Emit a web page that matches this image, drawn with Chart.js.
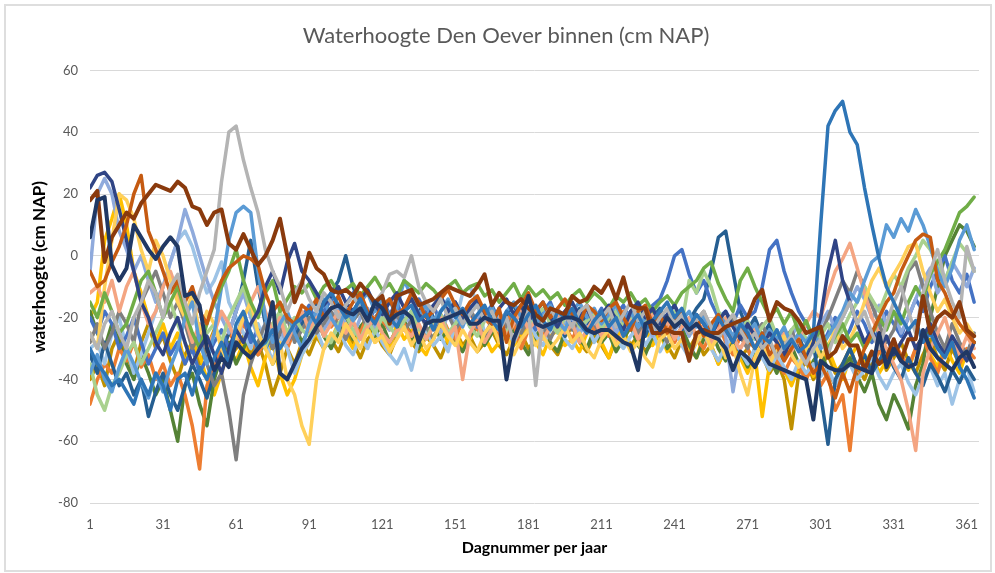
<!DOCTYPE html>
<html>
<head>
<meta charset="utf-8">
<script src="https://cdn.jsdelivr.net/npm/chart.js@4.4.1/dist/chart.umd.min.js"></script>
<style>
  html, body { margin: 0; padding: 0; background: #fff; }
  #wrap { position: relative; width: 995px; height: 573px; }
  #kader { position: absolute; left: 4px; top: 4px; width: 984px; height: 564px; border: 2px solid #dedede; pointer-events: none; }
</style>
</head>
<body>
<div id="wrap">
  <canvas id="waterChart" width="995" height="573"></canvas>
  <div id="kader"></div>
</div>
<script>
const dagen = Array.from({ length: 122 }, (_, i) => 1 + 3 * i);
const xTicks = [1, 31, 61, 91, 121, 151, 181, 211, 241, 271, 301, 331, 361];
const yTicks = [-80, -60, -40, -20, 0, 20, 40, 60];

// waterhoogte per jaar (cm NAP)
const jaarNavy = [6,18,19,-3,-8,-4,10,6,2,-1,
  3,6,3,-13,-12,-16,-30,-37,-33,-36,
  -28,-31,-33,-30,-27,-15,-38,-40,-35,-30,
  -27,-23,-20,-17,-16,-18,-19,-17,-21,-15,
  -17,-21,-19,-18,-20,-28,-22,-21,-21,-20,
  -19,-18,-22,-22,-20,-21,-21,-40,-27,-21,
  -13,-22,-23,-22,-21,-20,-20,-21,-24,-25,
  -24,-24,-26,-28,-29,-37,-22,-21,-24,-20,
  -23,-21,-24,-22,-25,-26,-27,-30,-37,-31,
  -33,-36,-31,-35,-36,-37,-38,-39,-40,-53,
  -34,-36,-37,-37,-35,-36,-37,-38,-25,-36,
  -30,-34,-36,-35,-24,-30,-33,-35,-37,-33,
  -31,-36];
const jaarRoest = [18,21,-2,6,10,14,12,17,20,23,
  22,21,24,22,16,15,10,14,15,4,
  2,7,2,-3,0,5,12,0,-15,-9,
  1,-4,-6,-11,-12,-11,-13,-9,-12,-15,
  -13,-22,-13,-12,-11,-16,-15,-14,-12,-10,
  -11,-12,-13,-10,-6,-16,-12,-15,-16,-14,
  -17,-19,-21,-17,-18,-19,-13,-15,-14,-10,
  -12,-8,-14,-7,-16,-17,-17,-25,-25,-24,
  -25,-25,-34,-25,-24,-25,-25,-23,-22,-21,
  -20,-14,-11,-21,-15,-17,-18,-21,-25,-24,
  -23,-33,-31,-26,-29,-29,-37,-31,-35,-33,
  -27,-34,-27,-27,-13,-25,-20,-18,-20,-15,
  -24,-26];
const jaarStaal = [-30,-35,-38,-42,-40,-44,-48,-40,-45,-38,
  -42,-50,-40,-38,-45,-36,-40,-33,-28,-35,
  -22,-18,-25,-30,-28,-24,-30,-26,-22,-20,
  -18,-22,-15,-12,-16,-20,-18,-14,-19,-22,
  -17,-20,-23,-18,-16,-21,-19,-24,-18,-15,
  -20,-17,-22,-19,-16,-21,-24,-18,-20,-23,
  -19,-16,-21,-24,-18,-20,-17,-22,-25,-21,
  -18,-23,-20,-26,-22,-19,-24,-21,-18,-15,
  -20,-17,-23,-19,-22,-26,-20,-24,-28,-22,
  -25,-30,-26,-28,-24,-30,-27,-31,-29,-25,
  10,42,47,50,40,36,22,10,-1,-10,
  -15,-20,-24,-21,-28,-25,-30,-33,-28,-36,
  -40,-46];
const jaarGrijs = [-25,-30,-22,-18,-25,-30,-20,-15,-8,-12,
  -20,-10,-6,-15,-22,-12,-5,2,24,40,
  42,31,22,14,2,-5,-10,-18,-12,-8,
  -14,-18,-12,-15,-20,-16,-13,-17,-22,-15,
  -12,-6,-5,-7,0,-10,-15,-18,-14,-20,
  -17,-22,-19,-16,-21,-18,-24,-20,-28,-22,
  -18,-42,-20,-17,-21,-19,-23,-18,-16,-22,
  -20,-17,-23,-19,-15,-21,-18,-24,-20,-17,
  -22,-19,-25,-21,-18,-23,-27,-22,-19,-24,
  -28,-25,-30,-27,-33,-29,-26,-31,-35,-30,
  -27,-32,-25,-20,-15,-22,-18,-25,-30,-22,
  -15,-10,-18,-25,-12,-5,2,-8,-15,-20,
  3,-5];
const jaarOranje = [-5,-10,-8,-2,3,10,20,26,8,2,
  -5,-12,-8,-15,-10,-18,-22,-14,-8,-4,
  -2,0,-1,-3,-12,-18,-15,-20,-22,-16,
  -18,-14,-20,-17,-13,-19,-15,-12,-18,-21,
  -16,-14,-19,-17,-12,-15,-20,-18,-14,-11,
  -16,-19,-15,-13,-18,-22,-17,-28,-20,-16,
  -12,-18,-15,-20,-17,-14,-19,-22,-16,-18,
  -21,-17,-15,-20,-24,-18,-16,-22,-19,-25,
  -21,-18,-23,-20,-26,-22,-19,-24,-28,-23,
  -27,-30,-25,-32,-29,-34,-30,-27,-33,-38,
  -35,-40,-46,-38,-44,-36,-30,-25,-20,-15,
  -12,-5,0,5,7,6,-8,-12,-18,-22,
  -25,-28];
const jaarLichtOranje = [-48,-40,-35,-38,-30,-34,-28,-36,-32,-40,
  -35,-42,-38,-45,-55,-69,-42,-36,-30,-25,
  -28,-22,-26,-32,-27,-22,-25,-30,-24,-20,
  -25,-21,-18,-23,-20,-17,-22,-25,-19,-16,
  -21,-24,-18,-22,-26,-20,-17,-23,-19,-24,
  -27,-21,-18,-24,-20,-23,-26,-19,-22,-30,
  -24,-20,-25,-21,-18,-23,-27,-22,-19,-24,
  -20,-26,-23,-18,-22,-27,-24,-20,-26,-23,
  -28,-24,-21,-27,-30,-25,-22,-28,-32,-26,
  -30,-35,-31,-28,-34,-38,-33,-36,-40,-35,
  -42,-38,-50,-45,-63,-40,-35,-38,-30,-34,
  -28,-32,-36,-30,-26,-33,-38,-30,-27,-35,
  -30,-33];
const jaarGoud = [-20,-15,5,12,20,10,-5,-12,-20,-28,
  -22,-30,-25,-35,-28,-32,-40,-45,-38,-30,
  -34,-28,-36,-42,-33,-28,-38,-45,-40,-32,
  -28,-25,-30,-27,-22,-26,-30,-24,-21,-28,
  -25,-30,-22,-27,-24,-29,-32,-26,-23,-28,
  -25,-30,-27,-22,-26,-31,-28,-24,-29,-26,
  -23,-28,-32,-26,-24,-29,-27,-31,-25,-22,
  -28,-33,-26,-24,-30,-27,-23,-29,-25,-31,
  -27,-24,-30,-33,-26,-29,-35,-30,-27,-33,
  -38,-32,-52,-35,-30,-37,-42,-36,-31,-39,
  -34,-30,-36,-40,-33,-29,-35,-31,-38,-34,
  -28,-33,-37,-30,-26,-32,-36,-29,-34,-38,
  -31,-28];
const jaarLichtGoud = [-25,-30,-10,5,20,18,12,2,-5,5,
  0,-8,-15,-20,-12,-25,-18,-22,-30,-35,
  -26,-20,-15,-25,-30,-35,-28,-40,-45,-55,
  -61,-40,-30,-25,-28,-22,-26,-30,-24,-28,
  -26,-31,-27,-23,-29,-25,-30,-27,-22,-26,
  -29,-24,-28,-31,-25,-22,-28,-26,-32,-27,
  -24,-29,-26,-30,-27,-23,-28,-25,-30,-33,
  -27,-24,-29,-26,-31,-28,-33,-36,-27,-25,
  -30,-27,-32,-28,-24,-30,-26,-33,-29,-38,
  -45,-33,-28,-35,-30,-26,-32,-36,-30,-27,
  -33,-29,-24,-30,-27,-22,-15,-8,-4,-10,
  -6,-2,3,4,-5,-12,-18,-14,-20,-25,
  -22,-26];
const jaarLichtBlauw = [-30,-28,-35,-25,-20,-30,-38,-32,-25,-18,
  -10,-2,5,8,3,-5,-12,-8,-2,-15,
  -20,-25,-30,-22,-28,-34,-26,-30,-38,-32,
  -28,-24,-30,-27,-23,-29,-32,-26,-30,-24,
  -28,-32,-35,-30,-37,-27,-24,-29,-26,-31,
  -22,-12,-10,-15,-25,-22,-19,-24,-28,-23,
  -20,-26,-29,-24,-21,-27,-30,-25,-22,-28,
  -24,-21,-27,-30,-26,-23,-29,-25,-31,-27,
  -24,-29,-33,-28,-25,-30,-34,-29,-26,-31,
  -35,-30,-33,-37,-32,-36,-40,-34,-38,-35,
  -39,-36,-42,-38,-35,-40,-37,-33,-39,-43,
  -38,-35,-41,-45,-39,-36,-42,-38,-48,-40,
  -36,-44];
const jaarBlauw = [-38,-32,-40,-44,-36,-30,-35,-41,-46,-38,
  -44,-36,-30,-20,-15,-28,-35,-25,-10,5,
  14,16,14,-5,-20,-28,-22,-18,-25,-30,
  -22,-18,-14,-20,-24,-17,-21,-15,-12,-18,
  -14,-20,-17,-8,-13,-19,-16,-21,-18,-14,
  -19,-23,-17,-15,-20,-17,-22,-18,-15,-20,
  -17,-22,-19,-16,-21,-24,-18,-15,-20,-17,
  -22,-19,-16,-21,-18,-23,-20,-17,-22,-19,
  -16,-21,-18,-23,-20,-24,-19,-22,-26,-21,
  -25,-22,-28,-24,-27,-23,-29,-25,-28,-24,
  -30,-26,-22,-18,-12,-15,-8,-2,0,10,
  6,12,8,15,10,3,-5,-10,-4,5,
  10,2];
const jaarGroen = [-15,-20,-12,-18,-25,-22,-15,-8,-5,-12,
  -20,-15,-10,-18,-25,-30,-22,-15,-10,-5,
  2,-8,-15,-20,-12,-8,-18,-14,-10,-12,
  -9,-14,-10,-8,-12,-11,-9,-13,-10,-7,
  -11,-9,-13,-8,-10,-12,-9,-11,-14,-10,
  -8,-12,-10,-9,-13,-11,-15,-12,-9,-14,
  -10,-13,-11,-14,-12,-16,-13,-11,-15,-12,
  -14,-17,-13,-15,-12,-16,-14,-18,-15,-13,
  -16,-12,-10,-8,-4,-2,-9,-14,-18,-8,
  -4,-10,-15,-20,-17,-22,-18,-25,-21,-27,
  -24,-30,-26,-22,-28,-25,-30,-26,-20,-24,
  -18,-22,-15,-10,-14,-6,-2,2,8,14,
  16,19];
const jaarDonkerGroen = [-18,-25,-30,-22,-28,-35,-40,-32,-38,-45,
  -40,-50,-60,-42,-38,-48,-55,-40,-32,-28,
  -35,-30,-25,-32,-28,-35,-30,-26,-22,-28,
  -24,-20,-26,-30,-25,-21,-27,-23,-20,-26,
  -22,-28,-24,-21,-26,-30,-25,-22,-27,-24,
  -28,-31,-26,-23,-29,-25,-22,-27,-24,-28,
  -32,-26,-23,-28,-31,-25,-22,-27,-30,-24,
  -28,-25,-31,-27,-23,-29,-32,-26,-24,-30,
  -27,-23,-29,-33,-27,-24,-30,-34,-28,-31,
  -36,-30,-27,-33,-38,-32,-29,-35,-40,-34,
  -31,-37,-42,-36,-33,-39,-44,-38,-48,-53,
  -45,-50,-56,-42,-35,-20,-10,0,5,10,
  8,3];
const jaarLichtGroen = [-35,-45,-50,-42,-38,-32,-28,-35,-30,-25,
  -20,-15,-22,-28,-35,-30,-25,-22,-28,-20,
  -15,-10,-18,-25,-30,-22,-18,-25,-20,-24,
  -26,-21,-25,-28,-22,-19,-24,-27,-21,-25,
  -20,-23,-26,-21,-18,-24,-27,-22,-19,-25,
  -22,-18,-23,-26,-21,-17,-22,-25,-20,-18,
  -23,-20,-17,-22,-25,-20,-18,-23,-21,-19,
  -24,-20,-18,-23,-21,-17,-22,-20,-25,-21,
  -18,-22,-8,-12,-5,-10,-18,-22,-19,-24,
  -21,-27,-23,-20,-26,-30,-24,-21,-27,-31,
  -26,-22,-28,-24,-19,-15,-10,-14,-18,-12,
  -6,-10,-4,0,5,2,-3,-8,-2,4,
  1,-5];
const jaarZalm = [-12,-10,-15,-8,-18,-10,-5,-15,-22,-18,
  -10,-5,-12,-20,-28,-22,-30,-25,-18,-22,
  -28,-20,-15,-10,-18,-25,-20,-28,-22,-18,
  -24,-20,-26,-22,-18,-25,-21,-27,-23,-20,
  -25,-28,-24,-24,-26,-22,-27,-23,-20,-26,
  -23,-40,-25,-21,-28,-24,-20,-26,-22,-18,
  -24,-21,-27,-23,-19,-25,-22,-28,-24,-20,
  -26,-22,-28,-25,-21,-27,-23,-19,-25,-21,
  -27,-23,-20,-26,-22,-28,-24,-20,-27,-30,
  -26,-23,-29,-34,-28,-25,-31,-27,-22,-18,
  -20,-12,-5,-1,4,-4,-12,-20,-25,-30,
  -35,-40,-50,-63,-38,-30,-25,-20,-28,-32,
  -26,-30];
const jaarDonkerGrijs = [-28,-22,-30,-25,-18,-22,-28,-15,-10,-5,
  -12,-20,-15,-22,-30,-25,-35,-42,-38,-50,
  -66,-45,-35,-28,-22,-30,-25,-20,-28,-24,
  -20,-25,-22,-18,-23,-27,-21,-18,-24,-20,
  -17,-22,-19,-24,-21,-18,-23,-27,-21,-19,
  -24,-20,-17,-22,-26,-21,-18,-23,-20,-25,
  -21,-18,-23,-27,-22,-19,-24,-21,-17,-22,
  -26,-21,-18,-23,-20,-25,-22,-19,-24,-28,
  -22,-19,-25,-21,-18,-24,-27,-22,-20,-26,
  -30,-25,-22,-28,-32,-27,-24,-30,-35,-28,
  -25,-20,-14,-8,-12,-5,-10,-16,-22,-28,
  -24,-15,-5,-2,-10,-18,-25,-30,-22,-28,
  -32,-25];
const jaarLavendel = [-5,20,25,20,8,2,-5,0,-8,-15,
  -10,-2,5,15,8,0,-8,-15,-20,-25,
  -18,-12,-20,-26,-22,-17,-24,-28,-21,-18,
  -23,-19,-24,-20,-17,-22,-26,-20,-17,-23,
  -19,-24,-21,-18,-23,-20,-16,-21,-25,-19,
  -22,-18,-23,-20,-17,-22,-19,-24,-21,-17,
  -22,-19,-24,-21,-17,-22,-20,-25,-21,-18,
  -23,-20,-25,-21,-18,-23,-20,-26,-22,-19,
  -24,-21,-26,-22,-19,-24,-20,-26,-44,-30,
  -26,-26,-22,-28,-24,-30,-26,-22,-28,-25,
  -22,-18,-24,-20,-15,-10,-14,-20,-16,-22,
  -18,-25,-20,-14,-8,-4,-12,-8,-2,-6,
  -10,-4];
const jaarKoningsblauw = [-20,-25,-18,-22,-30,-26,-20,-28,-35,-30,
  -25,-32,-28,-35,-30,-38,-33,-28,-24,-30,
  -26,-20,-28,-24,-30,-26,-22,-28,-24,-20,
  -16,-22,-18,-14,-20,-16,-12,-18,-22,-17,
  -14,-19,-15,-21,-18,-14,-19,-16,-22,-18,
  -15,-20,-17,-23,-19,-16,-21,-25,-19,-16,
  -20,-24,-18,-15,-21,-18,-23,-19,-16,-21,
  -17,-22,-19,-16,-21,-25,-19,-16,-14,-8,
  0,2,-6,-12,-8,-15,-20,-18,-22,-16,
  -20,-18,-10,2,5,-5,-12,-18,-22,-26,
  -30,-25,-20,-28,-24,-18,-22,-28,-24,-18,
  -22,-26,-20,-14,-18,-10,-5,0,-8,-12,
  -6,-15];
const jaarDonkerStaal = [-32,-38,-28,-35,-42,-38,-45,-40,-52,-44,
  -38,-45,-50,-42,-35,-40,-46,-38,-32,-25,
  -18,-8,5,-10,-22,-30,-25,-20,-26,-22,
  -18,-15,-20,-12,-8,0,-10,-16,-20,-15,
  -18,-14,-20,-17,-22,-18,-15,-20,-24,-18,
  -16,-21,-18,-22,-17,-20,-24,-19,-16,-21,
  -18,-23,-20,-17,-22,-26,-20,-17,-22,-19,
  -24,-21,-18,-23,-19,-22,-26,-20,-17,-22,
  -19,-24,-21,-17,-14,-5,6,8,-5,-18,
  -24,-20,-26,-22,-28,-24,-30,-26,-32,-28,
  -45,-61,-40,-35,-30,-36,-32,-38,-34,-30,
  -36,-40,-33,-38,-42,-35,-39,-44,-37,-41,
  -36,-40];
const jaarNavy2 = [22,26,27,24,15,5,-5,-15,-20,-28,
  -32,-25,-20,-28,-35,-30,-26,-32,-38,-30,
  -24,-28,-22,-18,-10,-5,-12,-2,4,-5,
  -8,-12,-16,-13,-10,-15,-18,-14,-11,-16,
  -19,-15,-12,-17,-14,-19,-22,-16,-13,-18,
  -15,-20,-17,-14,-19,-22,-17,-14,-19,-16,
  -21,-18,-15,-20,-23,-18,-15,-20,-17,-22,
  -19,-16,-21,-24,-18,-15,-20,-17,-22,-19,
  -16,-21,-24,-19,-22,-26,-21,-18,-23,-27,
  -22,-26,-30,-25,-28,-32,-27,-30,-34,-28,
  -20,-5,5,-8,-15,-22,-28,-24,-30,-26,
  -32,-28,-24,-30,-26,-22,-28,-32,-26,-30,
  -34,-28];
const jaarDonkerGoud = [-40,-35,-42,-30,-25,-32,-38,-28,-22,-30,
  -26,-34,-40,-32,-28,-35,-30,-24,-28,-33,
  -30,-26,-32,-28,-35,-45,-38,-30,-35,-28,
  -32,-26,-30,-27,-31,-25,-28,-33,-27,-24,
  -29,-32,-26,-23,-28,-31,-26,-29,-33,-27,
  -24,-29,-26,-31,-28,-24,-29,-32,-27,-25,
  -30,-27,-24,-29,-32,-26,-23,-28,-31,-26,
  -29,-33,-27,-24,-29,-26,-31,-28,-24,-29,
  -33,-27,-30,-26,-32,-29,-35,-30,-27,-33,
  -30,-36,-32,-38,-34,-40,-56,-38,-34,-40,
  -36,-32,-38,-35,-30,-36,-40,-34,-30,-37,
  -33,-28,-34,-38,-32,-27,-33,-37,-30,-35,
  -32,-28];

// reeksen: eerste in de lijst wordt bovenop getekend
const reeksen = [
  { naam: 'navy', data: jaarNavy, kleur: '#203864', dikte: 4 },
  { naam: 'roest', data: jaarRoest, kleur: '#8a3a0d', dikte: 4 },
  { naam: 'staal', data: jaarStaal, kleur: '#2e75b6', dikte: 3.5 },
  { naam: 'grijs', data: jaarGrijs, kleur: '#b4b4b4', dikte: 3.5 },
  { naam: 'oranje', data: jaarOranje, kleur: '#c55a11', dikte: 3.5 },
  { naam: 'navy2', data: jaarNavy2, kleur: '#2f4485', dikte: 3.5 },
  { naam: 'groen', data: jaarGroen, kleur: '#70ad47', dikte: 3.5 },
  { naam: 'blauw', data: jaarBlauw, kleur: '#5b9bd5', dikte: 3.5 },
  { naam: 'lichtgoud', data: jaarLichtGoud, kleur: '#ffd05a', dikte: 3.5 },
  { naam: 'zalm', data: jaarZalm, kleur: '#f4a582', dikte: 3.5 },
  { naam: 'lichtgroen', data: jaarLichtGroen, kleur: '#a9d18e', dikte: 3.5 },
  { naam: 'donkergrijs', data: jaarDonkerGrijs, kleur: '#7f7f7f', dikte: 3.5 },
  { naam: 'lavendel', data: jaarLavendel, kleur: '#8faadc', dikte: 3.5 },
  { naam: 'koningsblauw', data: jaarKoningsblauw, kleur: '#4472c4', dikte: 3.5 },
  { naam: 'donkerstaal', data: jaarDonkerStaal, kleur: '#255e91', dikte: 3.5 },
  { naam: 'lichtblauw', data: jaarLichtBlauw, kleur: '#9dc3e6', dikte: 3.5 },
  { naam: 'lichtoranje', data: jaarLichtOranje, kleur: '#ed7d31', dikte: 3.5 },
  { naam: 'donkergroen', data: jaarDonkerGroen, kleur: '#548235', dikte: 3.5 },
  { naam: 'goud', data: jaarGoud, kleur: '#ffc000', dikte: 3.5 },
  { naam: 'donkergoud', data: jaarDonkerGoud, kleur: '#bf9000', dikte: 3.5 }
];

// y-astitel staat in het origineel iets boven het midden, dus zelf tekenen
const yTitel = {
  id: 'yTitel',
  afterDraw(chart) {
    const ctx = chart.ctx;
    ctx.save();
    ctx.translate(40, 267);
    ctx.rotate(-Math.PI / 2);
    ctx.font = 'bold 17px Lato';
    ctx.fillStyle = '#000';
    ctx.textAlign = 'center';
    ctx.textBaseline = 'middle';
    ctx.fillText('waterhoogte (cm NAP)', 0, 0);
    ctx.restore();
  }
};

const ctx = document.getElementById('waterChart').getContext('2d');
new Chart(ctx, {
  type: 'line',
  data: {
    datasets: reeksen.map(r => ({
      label: r.naam,
      data: r.data.map((v, i) => ({ x: dagen[i], y: v })),
      borderColor: r.kleur,
      borderWidth: r.dikte,
      pointRadius: 0,
      fill: false,
      tension: 0,
      borderJoinStyle: 'round',
      borderCapStyle: 'round'
    }))
  },
  options: {
    responsive: false,
    animation: false,
    // links extra ruimte zodat de titel iets rechts van het midden staat
    layout: { padding: { left: 33, right: 16, top: 0, bottom: 0 } },
    plugins: {
      legend: { display: false },
      tooltip: { enabled: false },
      title: {
        display: true,
        text: 'Waterhoogte Den Oever binnen (cm NAP)',
        color: '#595959',
        font: { family: 'Lato', size: 22, weight: 'normal' },
        padding: { top: 23, bottom: 21 }
      }
    },
    scales: {
      x: {
        type: 'linear',
        min: 1,
        max: 366,
        afterBuildTicks: scale => { scale.ticks = xTicks.map(v => ({ value: v })); },
        afterFit: scale => { scale.height = 70; },
        grid: { display: false },
        border: { display: false },
        ticks: { color: '#595959', font: { family: 'Lato', size: 13 }, padding: 6, maxRotation: 0, autoSkip: false },
        title: {
          display: true,
          text: 'Dagnummer per jaar',
          color: '#000',
          font: { family: 'Lato', size: 16, weight: 'bold' },
          padding: { top: 0, bottom: 16 }
        }
      },
      y: {
        min: -80,
        max: 60,
        afterBuildTicks: scale => { scale.ticks = yTicks.map(v => ({ value: v })); },
        afterFit: scale => { scale.width = 57; },
        grid: { color: '#d9d9d9', lineWidth: 1, drawTicks: false },
        border: { display: false },
        ticks: { color: '#595959', font: { family: 'Lato', size: 13 }, padding: 12 }
      }
    }
  },
  plugins: [yTitel]
});
</script>
</body>
</html>
